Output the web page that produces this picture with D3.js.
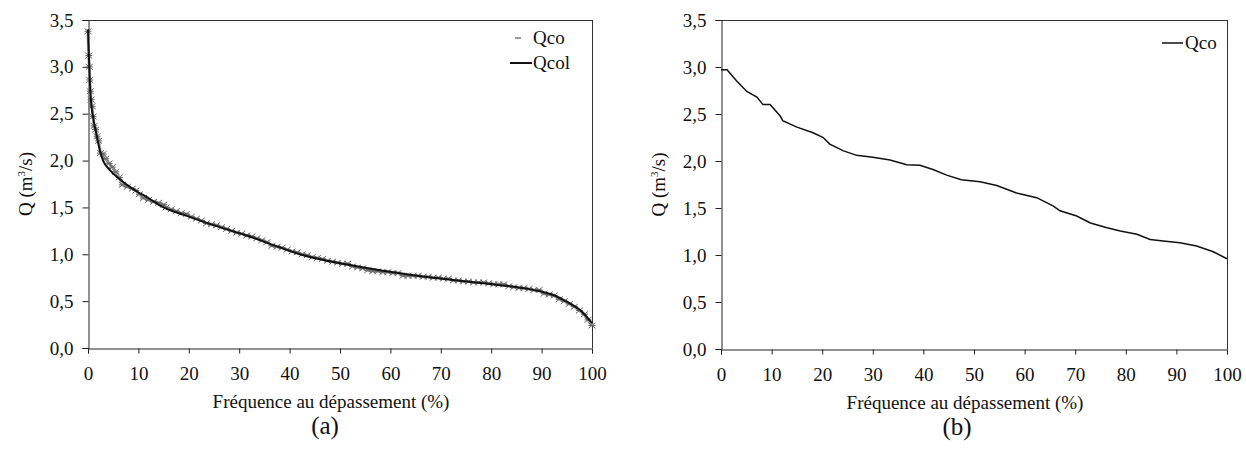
<!DOCTYPE html>
<html>
<head>
<meta charset="utf-8">
<script src="https://cdn.jsdelivr.net/npm/d3@7"></script>
<style>
  html, body { margin: 0; padding: 0; background: #fff; }
  svg { display: block; }
  text { font-family: "Liberation Serif", "Times New Roman", serif; fill: #111; }
</style>
</head>
<body>
<svg id="chart" width="1246" height="462"></svg>
<script>
// ---------- data ----------
const xTicks = [0, 10, 20, 30, 40, 50, 60, 70, 80, 90, 100];
const yTicks = [0, 0.5, 1.0, 1.5, 2.0, 2.5, 3.0, 3.5];

// Panel (a): observed classified flows Qco (frequency %, Q)
const qcoA_x = [0, 0.15, 0.25, 0.35, 0.45, 0.6, 0.8, 1.0, 1.2, 1.5, 1.8, 2.1, 2.5, 3.0, 3.5, 4.2, 4.8, 5.5, 6.2, 6.8, 7.8, 8.8, 9.5, 10.2, 11, 12, 13, 14, 15, 15.5, 16.5, 17.5, 18.5, 19.5, 20.5, 21.5, 22.5, 23.5, 24.5, 25.5, 26.5, 27.5, 28.5, 29.5, 30.5, 31.5, 32.5, 33.5, 34.5, 35.5, 36.5, 37.5, 38.5, 39.5, 40.5, 41.5, 42.5, 43.5, 44.5, 45.5, 46.5, 47.5, 48.5, 49.5, 50.5, 51.5, 52.5, 53.5, 54.5, 55.5, 56.5, 57.5, 58.5, 59.5, 60.5, 61.5, 62.5, 63.5, 64.5, 65.5, 66.5, 67.5, 68.5, 69.5, 70.5, 71.5, 72.5, 73.5, 74.5, 75.5, 76.5, 77.5, 78.5, 79.5, 80.5, 81.5, 82.5, 83.5, 84.5, 85.5, 86.5, 87.5, 88.5, 89.5, 90.5, 91.5, 92.5, 93.5, 94.5, 95.5, 96.5, 97.5, 98.5, 99.2, 100];
const qcoA_y = [3.38, 3.12, 3.0, 2.86, 2.74, 2.65, 2.58, 2.47, 2.37, 2.33, 2.26, 2.21, 2.08, 2.07, 2.02, 1.97, 1.93, 1.88, 1.82, 1.74, 1.72, 1.70, 1.68, 1.64, 1.60, 1.58, 1.56, 1.55, 1.53, 1.50, 1.48, 1.46, 1.44, 1.43, 1.40, 1.38, 1.36, 1.33, 1.32, 1.31, 1.29, 1.27, 1.25, 1.23, 1.22, 1.20, 1.19, 1.17, 1.15, 1.13, 1.09, 1.08, 1.07, 1.05, 1.03, 1.02, 1.00, 0.99, 0.97, 0.96, 0.95, 0.93, 0.92, 0.91, 0.90, 0.90, 0.87, 0.86, 0.85, 0.83, 0.82, 0.82, 0.81, 0.81, 0.80, 0.80, 0.77, 0.77, 0.77, 0.77, 0.76, 0.76, 0.75, 0.75, 0.74, 0.74, 0.72, 0.72, 0.71, 0.71, 0.70, 0.70, 0.70, 0.69, 0.68, 0.68, 0.68, 0.66, 0.65, 0.64, 0.64, 0.63, 0.62, 0.62, 0.58, 0.57, 0.56, 0.52, 0.50, 0.47, 0.44, 0.40, 0.36, 0.30, 0.24];

// Panel (a): fitted curve Qcol
const qcolA_x = [0, 0.25, 0.5, 0.9, 1.6, 2.4, 3, 4.3, 6.3, 9.7, 12, 14.3, 19.6, 25.5, 31.5, 36.7, 42, 52, 58.5, 68.5, 78.4, 88.3, 92.3, 95, 98, 100];
const qcolA_y = [3.4, 3.0, 2.7, 2.5, 2.3, 2.1, 2.0, 1.9, 1.8, 1.67, 1.6, 1.52, 1.41, 1.3, 1.2, 1.1, 1.0, 0.886, 0.825, 0.75, 0.69, 0.62, 0.565, 0.494, 0.387, 0.265];

// Panel (b): Qco
const qcoB_x = [0, 1.2, 3.1, 5.1, 7.1, 8.3, 9.7, 11.7, 12.2, 15, 18.2, 20.2, 21.5, 24.1, 26.8, 30, 33.4, 36.7, 39.3, 41.9, 44.6, 47.5, 51.2, 54.5, 58.4, 62.4, 65.7, 67, 70.3, 73, 76.3, 78.9, 82.2, 84.8, 87.4, 90.7, 94, 97.3, 100];
const qcoB_y = [2.97, 2.97, 2.85, 2.74, 2.68, 2.6, 2.6, 2.48, 2.43, 2.36, 2.30, 2.25, 2.18, 2.11, 2.06, 2.04, 2.01, 1.96, 1.955, 1.91, 1.85, 1.80, 1.78, 1.74, 1.66, 1.61, 1.52, 1.47, 1.415, 1.34, 1.29, 1.255, 1.22, 1.165, 1.15, 1.13, 1.095, 1.035, 0.96];

const xTitle = "Fréquence au dépassement (%)";
const panelLabels = ["(a)", "(b)"];

// ---------- drawing ----------
const svg = d3.select("#chart");
const fmt = d => d3.format(".1f")(d).replace(".", ",");

function panel(cfg) {
  const x = d3.scaleLinear().domain([0, 100]).range([cfg.x0, cfg.x1]);
  const y = d3.scaleLinear().domain([0, 3.5]).range([cfg.y0, cfg.y1]);
  const g = svg.append("g");

  // frame (top and right)
  g.append("line").attr("x1", cfg.x0).attr("x2", cfg.x1).attr("y1", cfg.y1 + 0.5).attr("y2", cfg.y1 + 0.5)
    .attr("stroke", "#333").attr("stroke-width", 1);
  g.append("line").attr("x1", cfg.x1 + 0.5).attr("x2", cfg.x1 + 0.5).attr("y1", cfg.y1).attr("y2", cfg.y0)
    .attr("stroke", "#333").attr("stroke-width", 1);

  const xa = g.append("g").attr("transform", `translate(0,${cfg.y0 + 0.5})`)
    .call(d3.axisBottom(x).tickValues(xTicks).tickSize(5).tickPadding(13).tickFormat(d3.format("d")));
  const ya = g.append("g").attr("transform", `translate(${cfg.x0 + 0.5},0)`)
    .call(d3.axisLeft(y).tickValues(yTicks).tickSize(6).tickPadding(9).tickFormat(fmt));
  [xa, ya].forEach(a => {
    a.select(".domain").attr("stroke", "#222");
    a.selectAll(".tick line").attr("stroke", "#222");
    a.selectAll("text").attr("font-size", 19).attr("fill", "#111")
      .attr("font-family", "Liberation Serif, serif");
  });

  // axis titles
  g.append("text").attr("x", cfg.titleX).attr("y", cfg.y0 + 60)
    .attr("text-anchor", "middle").attr("font-size", 19).text(xTitle);
  const yt = g.append("text").attr("transform", `translate(${cfg.yTitleX},${(cfg.y0 + cfg.y1) / 2}) rotate(-90)`)
    .attr("text-anchor", "middle").attr("font-size", 19);
  yt.append("tspan").text("Q (m");
  yt.append("tspan").attr("font-size", 11).attr("dy", -7).text("3");
  yt.append("tspan").attr("dy", 7).text("/s)");

  g.append("text").attr("x", cfg.labelX).attr("y", cfg.y0 + 86)
    .attr("text-anchor", "middle").attr("font-size", 25).text(cfg.label);

  return { g, x, y };
}

// Panel (a)
const A = panel({ x0: 88, x1: 592, y0: 348, y1: 20, yTitleX: 32, titleX: 331, labelX: 325, label: panelLabels[0] });
const qcoA = qcoA_x.map((v, i) => [v, qcoA_y[i]]);
const qcolA = qcolA_x.map((v, i) => [v, qcolA_y[i]]);
A.g.append("path").datum(qcoA)
  .attr("d", d3.line().x(d => A.x(d[0])).y(d => A.y(d[1])))
  .attr("fill", "none").attr("stroke", "#aaa").attr("stroke-width", 3);
A.g.selectAll(".mk").data(qcoA).join("path").attr("class", "mk")
  .attr("transform", d => `translate(${A.x(d[0])},${A.y(d[1])})`)
  .attr("d", "M-3.5,-2.8L3.5,2.8M-3.5,2.8L3.5,-2.8M-3.5,0L3.5,0")
  .attr("stroke", "#666").attr("stroke-width", 1).attr("fill", "none");
A.g.append("path").datum(qcolA)
  .attr("d", d3.line().curve(d3.curveMonotoneX).x(d => A.x(d[0])).y(d => A.y(d[1])))
  .attr("fill", "none").attr("stroke", "#111").attr("stroke-width", 2);

// legend (a)
A.g.append("line").attr("x1", 515).attr("x2", 521).attr("y1", 38).attr("y2", 38)
  .attr("stroke", "#777").attr("stroke-width", 1.5);
A.g.append("text").attr("x", 533).attr("y", 44).attr("font-size", 19).text("Qco");
A.g.append("line").attr("x1", 510).attr("x2", 532).attr("y1", 63).attr("y2", 63)
  .attr("stroke", "#111").attr("stroke-width", 2);
A.g.append("text").attr("x", 533).attr("y", 69).attr("font-size", 19).text("Qcol");

// Panel (b)
const B = panel({ x0: 721, x1: 1227, y0: 349, y1: 20, yTitleX: 665, titleX: 965, labelX: 957, label: panelLabels[1] });
const qcoB = qcoB_x.map((v, i) => [v, qcoB_y[i]]);
B.g.append("path").datum(qcoB)
  .attr("d", d3.line().x(d => B.x(d[0])).y(d => B.y(d[1])))
  .attr("fill", "none").attr("stroke", "#111").attr("stroke-width", 1.5);
B.g.append("line").attr("x1", 1162).attr("x2", 1183).attr("y1", 43).attr("y2", 43)
  .attr("stroke", "#111").attr("stroke-width", 1.5);
B.g.append("text").attr("x", 1185).attr("y", 49).attr("font-size", 19).text("Qco");
</script>
</body>
</html>
